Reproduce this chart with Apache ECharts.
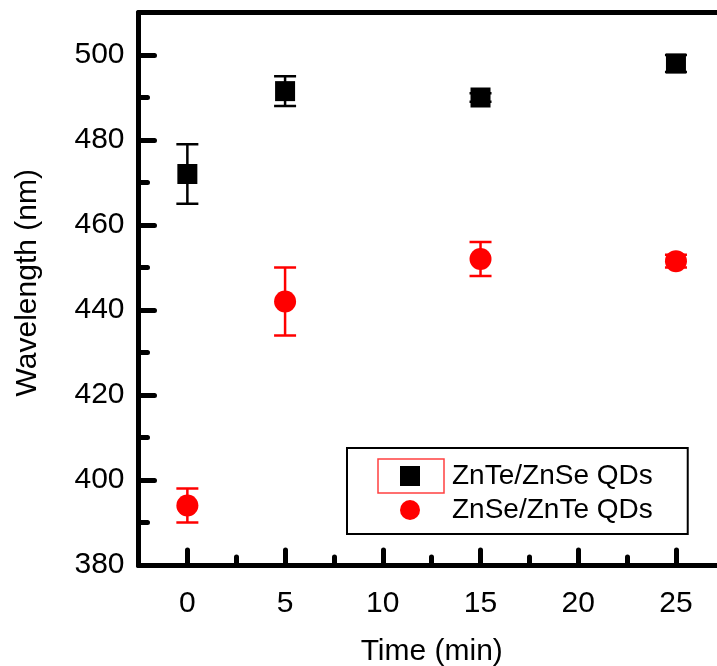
<!DOCTYPE html>
<html>
<head>
<meta charset="utf-8">
<script src="https://cdn.jsdelivr.net/npm/echarts@6/dist/echarts.min.js"></script>
<style>
html, body { margin: 0; padding: 0; background: #fff; }
#main { width: 717px; height: 666px; }
</style>
</head>
<body>
<div id="main"></div>
<script>
var times = [0, 5, 15, 25];
var znteVals = [472, 491.5, 490, 498];
var znteErrs = [7, 3.5, 1, 2];
var znseVals = [394, 442, 452, 451.5];
var znseErrs = [4, 8, 4, 1.5];
var xMajor = [0, 5, 10, 15, 20, 25];
var xMinor = [2.5, 7.5, 12.5, 17.5, 22.5];
var yMajor = [380, 400, 420, 440, 460, 480, 500];
var yMinor = [390, 410, 430, 450, 470, 490];

var FONT = 'Liberation Sans, Arial, sans-serif';
var X_MIN = -2.5, X_MAX = 27.1;

function pairs(vals) {
	return times.map(function(t, i) { return [t, vals[i]]; });
}

function errorBars(vals, errs, color, w) {
	return {
		type: 'custom',
		silent: true,
		z: 1,
		data: times.map(function(t, i) { return [t, vals[i] - errs[i], vals[i] + errs[i]]; }),
		encode: { x: 0, y: [1, 2] },
		renderItem: function(params, api) {
			var lo = api.coord([api.value(0), api.value(1)]);
			var hi = api.coord([api.value(0), api.value(2)]);
			var hw = 11;
			var st = { stroke: color, lineWidth: w };
			return {
				type: 'group',
				children: [
					{ type: 'line', shape: { x1: hi[0], y1: hi[1], x2: lo[0], y2: lo[1] }, style: st },
					{ type: 'line', shape: { x1: hi[0] - hw, y1: hi[1], x2: hi[0] + hw, y2: hi[1] }, style: st },
					{ type: 'line', shape: { x1: lo[0] - hw, y1: lo[1], x2: lo[0] + hw, y2: lo[1] }, style: st }
				]
			};
		}
	};
}

var tickStyle = { color: '#000', width: 5, cap: 'round' };

var myChart = echarts.init(document.getElementById('main'));
var option = {
	animation: false,
	backgroundColor: '#fff',
	textStyle: { fontFamily: FONT },
	grid: {
		left: 138.5,
		right: 0,
		top: 12.5,
		bottom: 101,
		containLabel: false,
		outerBoundsMode: 'none'
	},
	legend: {
		data: ['ZnTe/ZnSe QDs', 'ZnSe/ZnTe QDs'],
		orient: 'vertical',
		left: 347,
		top: 448,
		padding: [14, 35, 10, 53],
		itemWidth: 20,
		itemHeight: 20,
		itemGap: 6,
		borderColor: '#000',
		borderWidth: 2,
		backgroundColor: '#fff',
		textStyle: { fontFamily: FONT, fontSize: 28, color: '#000', padding: [0, 0, 0, 27] }
	},
	graphic: [{
		type: 'rect',
		z: 100,
		shape: { x: 378, y: 459, width: 66, height: 34 },
		style: { fill: 'none', stroke: '#ff4040', lineWidth: 1.5 }
	}],
	xAxis: [{
		type: 'value',
		min: X_MIN,
		max: X_MAX,
		name: 'Time (min)',
		nameLocation: 'middle',
		nameGap: 72,
		nameTextStyle: { fontFamily: FONT, fontSize: 30, color: '#000', padding: [0, 0, 0, 8] },
		axisLine: { onZero: false, lineStyle: { color: '#000', width: 5 } },
		axisTick: { inside: true, length: 15, customValues: xMajor, lineStyle: tickStyle },
		axisLabel: { customValues: xMajor, margin: 24, fontFamily: FONT, fontSize: 30, color: '#000' },
		splitLine: { show: false }
	}, {
		type: 'value',
		position: 'bottom',
		min: X_MIN,
		max: X_MAX,
		axisLine: { show: false, onZero: false },
		axisTick: { inside: true, length: 8, customValues: xMinor, lineStyle: tickStyle },
		axisLabel: { show: false },
		splitLine: { show: false }
	}, {
		type: 'value',
		position: 'top',
		min: X_MIN,
		max: X_MAX,
		axisLine: { onZero: false, lineStyle: { color: '#000', width: 5 } },
		axisTick: { show: false },
		axisLabel: { show: false },
		splitLine: { show: false }
	}],
	yAxis: [{
		type: 'value',
		min: 380,
		max: 510,
		name: 'Wavelength (nm)',
		nameLocation: 'middle',
		nameGap: 96,
		nameTextStyle: { fontFamily: FONT, fontSize: 30, color: '#000', padding: [0, 0, 0, 12] },
		axisLine: { onZero: false, lineStyle: { color: '#000', width: 5 } },
		axisTick: { inside: true, length: 16, customValues: yMajor, lineStyle: tickStyle },
		axisLabel: { customValues: yMajor, margin: 14, fontFamily: FONT, fontSize: 30, color: '#000' },
		splitLine: { show: false }
	}, {
		type: 'value',
		position: 'left',
		min: 380,
		max: 510,
		axisLine: { show: false, onZero: false },
		axisTick: { inside: true, length: 9, customValues: yMinor, lineStyle: tickStyle },
		axisLabel: { show: false },
		splitLine: { show: false }
	}],
	series: [
		errorBars(znteVals, znteErrs, '#000', 2.5),
		errorBars(znseVals, znseErrs, '#ff0000', 2.5),
		{
			name: 'ZnTe/ZnSe QDs',
			type: 'scatter',
			symbol: 'rect',
			symbolSize: 20,
			z: 3,
			itemStyle: { color: '#000', opacity: 1 },
			data: pairs(znteVals)
		},
		{
			name: 'ZnSe/ZnTe QDs',
			type: 'scatter',
			symbol: 'circle',
			symbolSize: 22,
			z: 3,
			itemStyle: { color: '#ff0000', opacity: 1 },
			data: pairs(znseVals)
		}
	]
};

myChart.setOption(option);
</script>
</body>
</html>
